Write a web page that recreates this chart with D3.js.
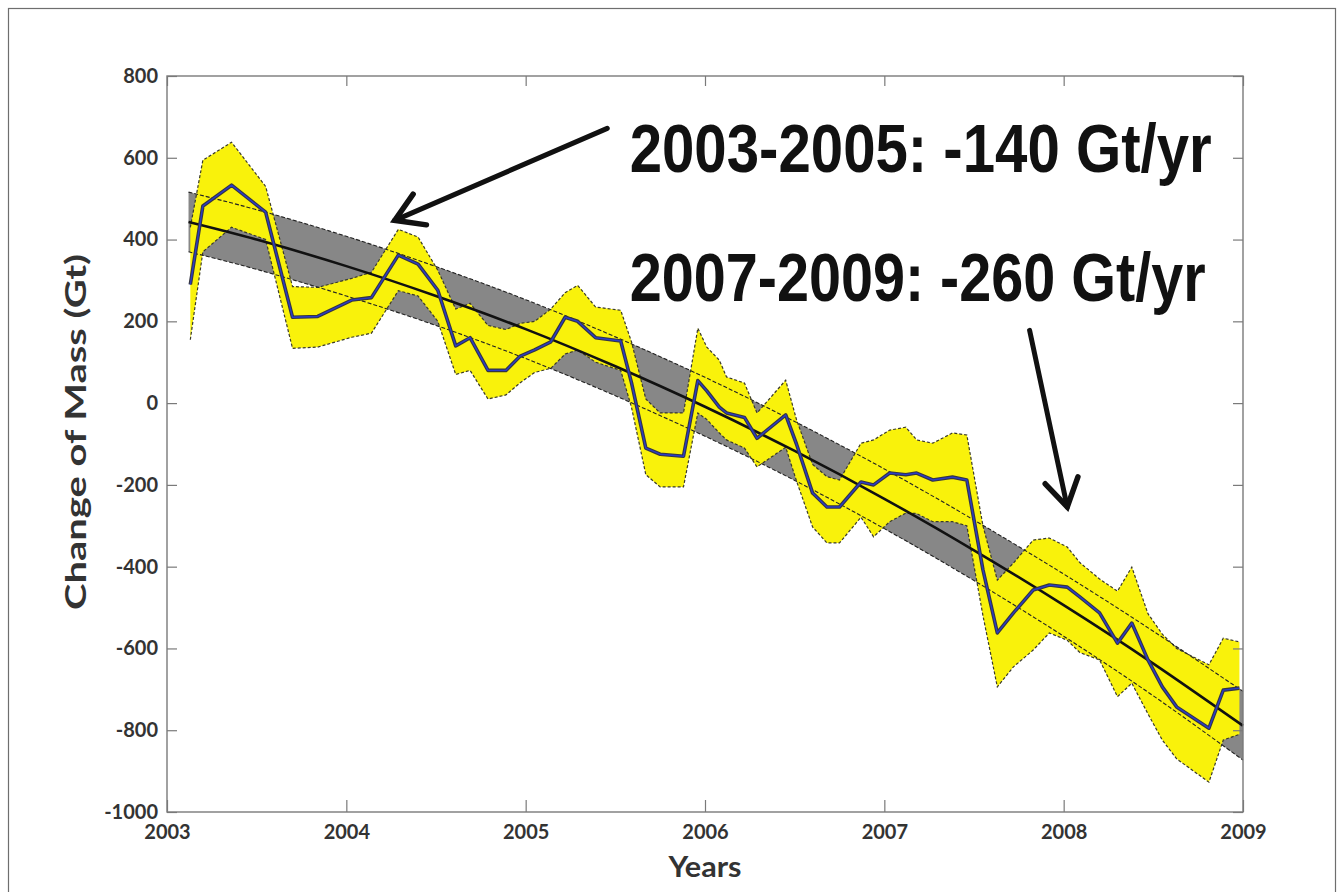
<!DOCTYPE html>
<html>
<head>
<meta charset="utf-8">
<script src="https://cdn.jsdelivr.net/npm/d3@7"></script>
<style>
  body { margin: 0; background: #fff; }
  svg { display: block; }
</style>
</head>
<body>
<div id="chart"></div>
<script>
// monthly mass change (blue line) and its error envelope (yellow)
const years = [2003.13, 2003.20, 2003.36, 2003.55, 2003.70, 2003.84, 2004.03, 2004.14, 2004.29, 2004.40, 2004.51,
  2004.61, 2004.69, 2004.79, 2004.89, 2004.97, 2005.05, 2005.14, 2005.22, 2005.29, 2005.39,
  2005.53, 2005.59, 2005.67, 2005.75, 2005.88, 2005.96, 2006.01, 2006.08, 2006.12, 2006.22,
  2006.29, 2006.45, 2006.51, 2006.60, 2006.68, 2006.75, 2006.87, 2006.94, 2007.03, 2007.12,
  2007.18, 2007.27, 2007.38, 2007.46, 2007.55, 2007.63, 2007.72, 2007.83, 2007.92, 2008.02,
  2008.09, 2008.20, 2008.30, 2008.38, 2008.47, 2008.55, 2008.63, 2008.81, 2008.89, 2008.98];
const mass = [290, 482, 533, 467, 210, 212, 252, 258, 362, 340, 276,
  140, 160, 80, 80, 115, 130, 150, 210, 200, 160,
  152, 50, -110, -125, -130, 55, 30, -10, -24, -35,
  -86, -29, -100, -220, -254, -254, -193, -200, -171, -175,
  -171, -188, -181, -188, -408, -562, -513, -457, -445, -450,
  -474, -513, -587, -538, -628, -694, -743, -795, -702, -697];
const massHi = [430, 594, 638, 530, 285, 283, 305, 320, 425, 406, 325,
  230, 244, 190, 180, 195, 200, 230, 270, 288, 235,
  227, 150, 10, -24, -24, 183, 137, 105, 64, 49,
  -24, 56, -40, -150, -180, -188, -98, -90, -66, -59,
  -90, -98, -73, -78, -300, -433, -391, -335, -330, -352,
  -390, -430, -460, -401, -515, -565, -600, -640, -575, -584];
const massLo = [155, 370, 430, 400, 134, 137, 161, 171, 275, 262, 200,
  70, 80, 10, 20, 50, 75, 85, 120, 130, 100,
  80, -10, -175, -205, -205, -24, -40, -73, -90, -110,
  -156, -108, -190, -303, -342, -342, -279, -327, -290, -269,
  -270, -290, -290, -300, -520, -694, -645, -604, -562, -580,
  -610, -628, -718, -685, -760, -824, -870, -927, -824, -810];

// fitted trend (black line) and its envelope (grey)
const fitYears = [2003.12, 2003.5, 2004, 2004.5, 2005, 2005.5, 2006, 2006.5, 2007, 2007.5, 2008, 2008.5, 2009];
const fitMass = [443, 400, 335, 262, 181, 90, -9, -117, -234, -360, -494, -637, -789];
const fitHi = [516, 473, 408, 334, 253, 162, 63, -45, -161, -286, -418, -558, -705];
const fitLo = [370, 327, 262, 190, 109, 18, -81, -189, -307, -434, -570, -716, -873];

const xTicks = [2003, 2004, 2005, 2006, 2007, 2008, 2009];
const yTicks = [-1000, -800, -600, -400, -200, 0, 200, 400, 600, 800];

const notes = [
  { text: "2003-2005: -140 Gt/yr", year: 2005.58, value: 566, width: 582, from: [2005.455, 672], to: [2004.27, 447] },
  { text: "2007-2009: -260 Gt/yr", year: 2005.58, value: 250, width: 576, from: [2007.81, 178], to: [2008.02, -254] }
];

const W = 1344, H = 892;
const margin = { top: 76, right: 101, bottom: 80, left: 167 };

const svg = d3.select("#chart").append("svg")
  .attr("width", W)
  .attr("height", H);

// outer picture border
svg.append("rect")
  .attr("x", 8.5).attr("y", 8.5)
  .attr("width", W - 17).attr("height", H)
  .attr("fill", "none")
  .attr("stroke", "#6e6e6e")
  .attr("stroke-width", 1.2);

const x = d3.scaleLinear().domain([2003, 2009]).range([margin.left, W - margin.right]);
const y = d3.scaleLinear().domain([-1000, 800]).range([H - margin.bottom, margin.top]);

const pts = years.map((t, i) => ({ t: t, v: mass[i], hi: massHi[i], lo: massLo[i] }));
const fit = fitYears.map((t, i) => ({ t: t, v: fitMass[i], hi: fitHi[i], lo: fitLo[i] }));

const plot = svg.append("g");

// grey envelope of the fit
plot.append("path")
  .datum(fit)
  .attr("fill", "#878787")
  .attr("d", d3.area().curve(d3.curveNatural)
    .x(d => x(d.t)).y0(d => y(d.lo)).y1(d => y(d.hi)));

// yellow error band
plot.append("path")
  .datum(pts)
  .attr("fill", "#f9f20b")
  .attr("d", d3.area().x(d => x(d.t)).y0(d => y(d.lo)).y1(d => y(d.hi)));

// yellow band edges
["hi", "lo"].forEach(k => {
  plot.append("path")
    .datum(pts)
    .attr("fill", "none")
    .attr("stroke", "#3a3a2a")
    .attr("stroke-width", 1.2)
    .attr("stroke-dasharray", "3,2")
    .attr("d", d3.line().x(d => x(d.t)).y(d => y(d[k])));
});

// grey envelope edges, drawn over the yellow
["hi", "lo"].forEach(k => {
  plot.append("path")
    .datum(fit)
    .attr("fill", "none")
    .attr("stroke", "#222")
    .attr("stroke-width", 1.1)
    .attr("stroke-dasharray", "4,2")
    .attr("d", d3.line().curve(d3.curveNatural).x(d => x(d.t)).y(d => y(d[k])));
});

// fitted trend line
plot.append("path")
  .datum(fit)
  .attr("fill", "none")
  .attr("stroke", "#111")
  .attr("stroke-width", 2.6)
  .attr("d", d3.line().curve(d3.curveNatural).x(d => x(d.t)).y(d => y(d.v)));

// monthly series: dark casing + blue core
const massLine = d3.line().x(d => x(d.t)).y(d => y(d.v));
plot.append("path")
  .datum(pts)
  .attr("fill", "none")
  .attr("stroke", "#353540")
  .attr("stroke-width", 3.6)
  .attr("stroke-linejoin", "round")
  .attr("d", massLine);
plot.append("path")
  .datum(pts)
  .attr("fill", "none")
  .attr("stroke", "#2a3cc8")
  .attr("stroke-width", 1.4)
  .attr("stroke-linejoin", "round")
  .attr("d", massLine);

// axes with inward ticks, box around the plot
const tickFont = g => g.selectAll("text")
  .attr("font-family", "Lato, 'Open Sans', sans-serif")
  .attr("font-weight", "bold")
  .attr("font-size", 20)
  .attr("fill", "#333");
const tickColor = g => {
  g.select(".domain").remove();
  g.selectAll("line").attr("stroke", "#7a7a7a").attr("stroke-width", 1.2);
};
const plain = d => String(d);

svg.append("g")
  .attr("transform", `translate(0,${y(-1000)})`)
  .call(d3.axisBottom(x).tickValues(xTicks).tickFormat(plain).tickSizeInner(-12).tickSizeOuter(0).tickPadding(13))
  .call(tickColor).call(tickFont);
svg.append("g")
  .attr("transform", `translate(0,${y(800)})`)
  .call(d3.axisTop(x).tickValues(xTicks).tickFormat("").tickSizeInner(-10).tickSizeOuter(0))
  .call(tickColor);
svg.append("g")
  .attr("transform", `translate(${x(2003)},0)`)
  .call(d3.axisLeft(y).tickValues(yTicks).tickFormat(plain).tickSizeInner(-10).tickSizeOuter(0).tickPadding(9))
  .call(tickColor).call(tickFont);
svg.append("g")
  .attr("transform", `translate(${x(2009)},0)`)
  .call(d3.axisRight(y).tickValues(yTicks).tickFormat("").tickSizeInner(-10).tickSizeOuter(0))
  .call(tickColor);

svg.append("rect")
  .attr("x", x(2003)).attr("y", y(800))
  .attr("width", x(2009) - x(2003)).attr("height", y(-1000) - y(800))
  .attr("fill", "none")
  .attr("stroke", "#7a7a7a")
  .attr("stroke-width", 1.4);

// axis titles
svg.append("text")
  .attr("x", (x(2003) + x(2009)) / 2)
  .attr("y", 877)
  .attr("text-anchor", "middle")
  .attr("font-family", "Lato, sans-serif")
  .attr("font-weight", "bold")
  .attr("font-size", 28)
  .attr("textLength", 73)
  .attr("lengthAdjust", "spacingAndGlyphs")
  .attr("fill", "#333")
  .text("Years");

svg.append("text")
  .attr("transform", `translate(86,${(y(800) + y(-1000)) / 2 - 12}) rotate(-90)`)
  .attr("text-anchor", "middle")
  .attr("font-family", "Lato, sans-serif")
  .attr("font-weight", "bold")
  .attr("font-size", 28)
  .attr("textLength", 356)
  .attr("lengthAdjust", "spacingAndGlyphs")
  .attr("fill", "#333")
  .text("Change of Mass (Gt)");

// annotations
notes.forEach(n => {
  svg.append("text")
    .attr("x", x(n.year))
    .attr("y", y(n.value))
    .attr("font-family", "'Liberation Sans', Arial, sans-serif")
    .attr("font-weight", "bold")
    .attr("font-size", 68)
    .attr("textLength", n.width)
    .attr("lengthAdjust", "spacingAndGlyphs")
    .attr("fill", "#111")
    .text(n.text);

  const x0 = x(n.from[0]), y0 = y(n.from[1]);
  const x1 = x(n.to[0]), y1 = y(n.to[1]);
  const ang = Math.atan2(y1 - y0, x1 - x0);
  const len = 32, spread = 0.55;
  const a1 = [x1 - len * Math.cos(ang - spread), y1 - len * Math.sin(ang - spread)];
  const a2 = [x1 - len * Math.cos(ang + spread), y1 - len * Math.sin(ang + spread)];

  svg.append("line")
    .attr("x1", x0).attr("y1", y0).attr("x2", x1).attr("y2", y1)
    .attr("stroke", "#111").attr("stroke-width", 5).attr("stroke-linecap", "round");
  svg.append("path")
    .attr("d", d3.line()([a1, [x1, y1], a2]))
    .attr("fill", "none")
    .attr("stroke", "#111").attr("stroke-width", 5.5)
    .attr("stroke-linecap", "round").attr("stroke-linejoin", "miter");
});
</script>
</body>
</html>
